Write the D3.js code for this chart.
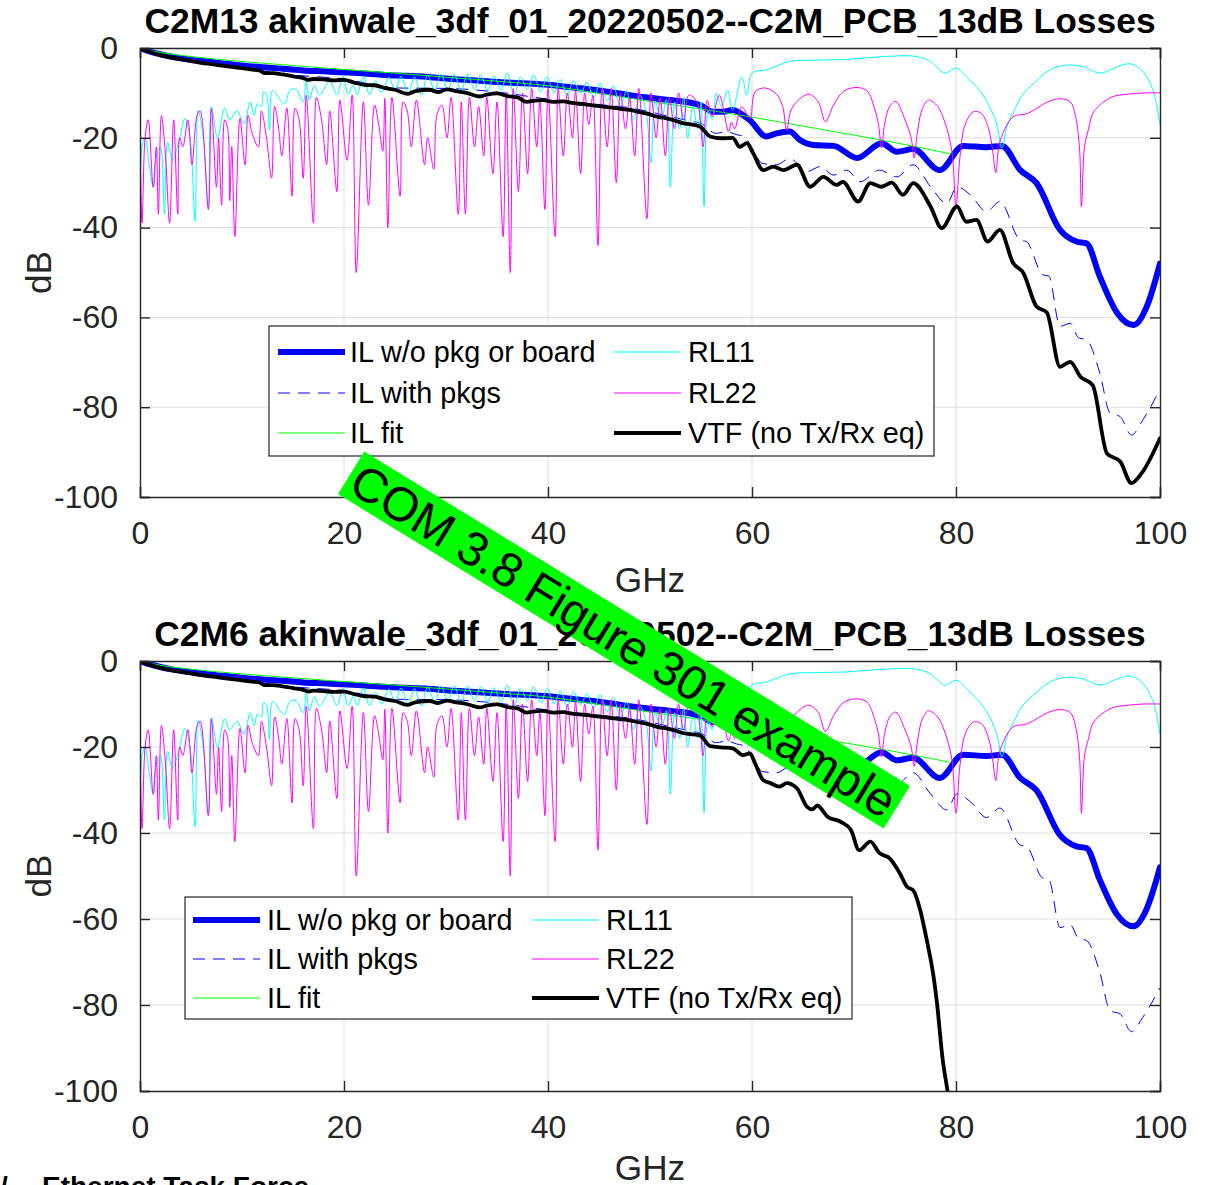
<!DOCTYPE html>
<html><head><meta charset="utf-8">
<script src="https://cdn.jsdelivr.net/npm/d3@7"></script>
<style>
body{margin:0;background:#fff;}
svg{display:block;}
text{font-family:"Liberation Sans",Arial,Helvetica,sans-serif;}
</style></head><body>
<svg id="chart" width="1209" height="1185"></svg>
<script>
// ---------------- DATA ----------------
const topTitle = "C2M13 akinwale_3df_01_20220502--C2M_PCB_13dB Losses";
const bottomTitle = "C2M6 akinwale_3df_01_20220502--C2M_PCB_13dB Losses";
const xTicks = [0, 20, 40, 60, 80, 100];
const yTicks = [0, -20, -40, -60, -80, -100];
const xLabel = "GHz";
const yLabel = "dB";
const legendLabels = ["IL w/o pkg or board", "IL with pkgs", "IL fit", "RL11", "RL22", "VTF (no Tx/Rx eq)"];
const bannerText = "COM 3.8 Figure 301 example";
const footerSlash = "/";
const footerText = "Ethernet Task Force";

// [GHz, dB]
const ilNoPkg = [[0,0],[1,-0.8],[2,-1.4],[3,-1.9],[4,-2.3],[5,-2.6],[6,-2.9],[8,-3.4],[10,-3.9],[12,-4.3],[14,-4.6],[16,-5.0],[18,-5.2],[20,-5.4],[22,-5.7],[24,-6.0],[26,-6.2],[28,-6.4],[30,-6.8],[32,-7.1],[34,-7.4],[36,-7.7],[38,-7.9],[40,-8.2],[42,-8.7],[44,-9.2],[46,-9.8],[48,-10.5],[50,-11.1],[52,-11.6],[54,-12.2],[55,-12.8],[56.2,-14.2],[57.2,-14.2],[58.1,-13.8],[59.1,-14.9],[59.8,-16.1],[61.4,-19.7],[62.4,-19.0],[63.7,-18.6],[64.7,-20.5],[66,-21.6],[68,-21.8],[70.3,-24.5],[72.7,-21.2],[74.2,-23.1],[75.8,-22.5],[78.4,-27.2],[80.7,-21.8],[83,-22.1],[84.5,-21.8],[86.3,-27.2],[87.9,-30.1],[90.2,-40.5],[91.8,-43.1],[92.8,-43.5],[94.1,-50.9],[95.8,-59],[97.4,-61.7],[98.7,-57.6],[100,-48]];

const ilWithPkg = [[0,0],[2,-1.5],[5,-2.8],[10,-4.4],[15,-6.0],[20,-6.9],[25,-8.9],[30,-9.0],[35,-9.8],[40,-11.4],[45,-12.6],[48,-13.3],[50,-14.2],[52,-15.3],[54,-16.3],[55,-16.8],[56.5,-19],[57.5,-18.6],[58.5,-19.3],[59.2,-19.7],[60.2,-23],[61,-25.7],[62.4,-26],[63.7,-24.6],[65.4,-27.5],[66.7,-26.4],[68,-28.3],[69.3,-27.2],[70.6,-29.8],[72.5,-27.2],[74.2,-28.7],[75.8,-26],[77.5,-30.9],[79.1,-34.6],[80.1,-30.9],[81.4,-32.7],[83,-36.4],[84.3,-34.2],[86.3,-42.8],[86.9,-43.1],[88.5,-50.5],[89.1,-50.8],[90.2,-62],[91.2,-61.3],[92,-64.5],[92.8,-65],[94.1,-72.4],[95.1,-81.3],[96.1,-82.1],[97.2,-86.2],[98.3,-82.9],[100,-76]];

const ilFit = [[0,0],[2,-1.0],[5,-1.9],[10,-3.0],[15,-3.9],[20,-4.8],[25,-5.6],[30,-6.5],[35,-7.4],[40,-8.4],[45,-10.1],[50,-11.9],[55,-13.6],[60,-15.4],[65,-17.4],[70,-19.4],[75,-21.5],[79.5,-23.6]];

const rl11 = [[0,-40],[0.2,-22],[0.5,-20],[0.9,-26],[1.3,-31],[1.6,-24],[2.0,-22],[2.4,-37],[2.7,-21],[3.2,-25],[3.9,-20],[4.4,-15.7],[4.9,-20],[5.4,-38.6],[5.7,-13.8],[6.2,-20],[6.7,-35.7],[7.0,-13.1],[7.6,-20],[8.3,-13.4],[8.8,-16],[9.5,-14],[10.2,-17],[10.8,-12],[11.2,-15],[11.5,-12.4],[11.9,-13],[12.1,-9.7],[12.4,-10.3],[12.7,-18.3],[13.0,-9.4],[13.9,-12],[14.2,-12.4],[14.7,-9.4],[15.3,-9.2],[16.0,-12],[16.3,-7.3],[16.6,-11.6],[17.1,-8.3],[17.6,-10.5],[18.6,-7.3],[19.3,-10.4],[19.9,-6.3],[20.4,-10.4],[20.9,-8.3],[21.3,-10.4],[21.9,-6.3],[22.5,-10.4],[23.1,-7.3],[23.7,-10],[24.4,-6.5],[25.0,-9.5],[25.6,-6.3],[26.3,-10.3],[26.9,-6.4],[27.6,-10.5],[28.2,-6.0],[28.9,-9.5],[29.5,-5.8],[30.2,-9.3],[30.8,-5.8],[31.5,-9.6],[32.1,-5.8],[32.8,-9.2],[33.4,-6.0],[34.1,-9.6],[34.7,-6.2],[35.4,-9.4],[36.0,-5.6],[36.7,-10.5],[37.3,-6.4],[38.0,-9.2],[38.6,-6.0],[39.3,-9.8],[39.9,-6.4],[40.6,-10.0],[41.2,-7.0],[41.9,-10.6],[42.5,-7.2],[43.2,-10.2],[43.8,-7.6],[44.5,-11.0],[45.1,-7.8],[45.8,-11.8],[46.4,-8.4],[47.1,-13.0],[47.7,-9.6],[48.4,-16.0],[49.0,-10.5],[49.6,-14],[50.1,-25.6],[50.5,-12],[51.1,-16],[51.6,-11.5],[52.0,-31],[52.4,-12],[52.9,-18],[53.3,-11],[53.7,-20],[54.2,-13],[54.7,-18],[55.0,-12],[55.3,-35.3],[55.7,-14],[56.1,-16],[56.5,-10.1],[57.0,-13],[57.6,-9.4],[58.1,-13.8],[59.0,-6.4],[59.5,-10.5],[60.0,-5.6],[61.4,-4.9],[63.7,-3.0],[66.3,-2.7],[69.6,-2.5],[72.9,-1.9],[76.1,-1.9],[77.5,-3.0],[78.4,-4.9],[78.9,-5.6],[80.1,-4.5],[81.0,-6.4],[82.3,-9.4],[83.3,-13.1],[84.0,-17],[84.5,-22.3],[85.0,-17.5],[85.6,-14.5],[86.5,-10.5],[87.6,-7.9],[89.2,-4.9],[90.8,-3.8],[92.5,-4.2],[94.1,-5.6],[95.8,-4.2],[97.1,-3.5],[98.0,-4.5],[98.7,-6.4],[99.4,-10],[100,-17]];

const rl22 = [[0,-20],[0.2,-39],[0.5,-20],[0.8,-16],[1.3,-31],[1.6,-22],[1.8,-37],[2.1,-15],[2.5,-24],[2.9,-39],[3.3,-16],[3.7,-37],[3.9,-20],[4.2,-22],[4.7,-16],[5.1,-26],[5.6,-15],[5.9,-14],[6.7,-36],[7.0,-13.5],[7.5,-31],[7.7,-20],[8.0,-35],[8.3,-16],[8.6,-18],[8.8,-34],[9.0,-22],[9.3,-42],[9.8,-15.7],[10.3,-26],[10.6,-15],[11.0,-19],[11.6,-22],[11.9,-14],[12.4,-20],[12.9,-29],[13.2,-13],[13.6,-18],[13.9,-24],[14.4,-13.4],[14.9,-33],[15.2,-13.4],[15.6,-16],[16.0,-29],[16.3,-10.5],[17.0,-39],[17.3,-11],[17.8,-16],[18.3,-26],[18.6,-14],[19.3,-32],[19.6,-11.6],[20.3,-25],[20.8,-10.5],[21.2,-50],[21.9,-12],[22.4,-35],[23.0,-12.7],[23.4,-17],[23.8,-23],[24.0,-11.2],[24.3,-40],[24.7,-11],[25.5,-33],[25.8,-12],[26.2,-14],[26.6,-22],[27.1,-11.6],[27.9,-26],[28.2,-20],[28.8,-27],[29.1,-15],[29.6,-12.7],[30.1,-20],[30.5,-11],[31.2,-37],[31.5,-12],[31.9,-37],[32.3,-11],[32.8,-22],[33.2,-13],[33.7,-24],[34.0,-11],[34.6,-28],[35.0,-12],[35.6,-42],[35.9,-10],[36.3,-50],[36.6,-9],[37.1,-32],[37.5,-10],[38.0,-28],[38.4,-9],[38.9,-22],[39.2,-12],[39.7,-36],[40.0,-9],[40.7,-42],[41.0,-9],[41.5,-24],[41.9,-10],[42.4,-20],[42.7,-9.5],[43.2,-28],[43.6,-10],[44.0,-17],[44.4,-10.5],[44.9,-44],[45.3,-9],[45.8,-22],[46.2,-9],[46.7,-30],[47.1,-10],[47.6,-18],[48.0,-11],[48.5,-24],[48.9,-9],[49.7,-38],[50.1,-10],[50.6,-20],[51.0,-11],[51.5,-24],[51.9,-11],[52.4,-18],[52.8,-10],[53.3,-16],[53.8,-10.5],[54.6,-12],[55.2,-22],[55.6,-11.7],[56.1,-15.3],[56.8,-10.5],[57.7,-18.6],[58.0,-16.5],[58.3,-18],[59.0,-13.1],[59.8,-15.7],[60.3,-9.8],[61.3,-8.9],[62.4,-10.3],[63.0,-13],[63.4,-18.4],[63.8,-14],[64.6,-11.5],[65.6,-10.3],[66.5,-12],[67.2,-16.4],[68.0,-12.7],[69.0,-9.6],[70.3,-8.8],[71.3,-9.6],[72.0,-13.4],[72.4,-17],[72.7,-22.3],[73.0,-17],[73.5,-13],[74.1,-11.9],[75.0,-16],[75.6,-20],[75.9,-24.5],[76.2,-19],[76.7,-13.5],[77.3,-11.6],[78.2,-13],[78.9,-16.5],[79.6,-23],[80.0,-35.4],[80.4,-24],[80.9,-17],[81.7,-14.2],[82.5,-14.6],[83.2,-18],[83.6,-23],[83.9,-27.8],[84.2,-22],[84.6,-19],[85.6,-15.3],[87.0,-14.6],[89.0,-12],[90.2,-11.3],[91.2,-12],[91.7,-15],[92.1,-22],[92.3,-35.4],[92.6,-22],[93.0,-18],[93.5,-14.2],[95.2,-11],[96.8,-10.3],[98.4,-10],[100,-10]];

const vtfTop = [[0,0],[1,-0.9],[2,-1.6],[3,-2.1],[4,-2.5],[5,-2.9],[6,-3.3],[7,-3.6],[8,-3.9],[9,-4.2],[10,-4.5],[11,-4.8],[11.7,-5.0],[12.2,-5.6],[13,-5.6],[14,-5.9],[15,-6.3],[16,-6.7],[16.5,-7.1],[17,-6.9],[18,-7.0],[19,-7.2],[20,-7.1],[21,-7.7],[22,-8.2],[23,-8.3],[24,-8.9],[25,-9.3],[26.2,-10.2],[27,-9.6],[28.4,-9.3],[29.2,-9.8],[30.1,-9.2],[31,-9.6],[32,-10.0],[33.3,-10.8],[34,-10.4],[35,-10.1],[36,-10.7],[37,-11.0],[37.9,-12.0],[38.7,-11.7],[39.5,-11.6],[40.5,-12.0],[41.5,-11.9],[42.5,-12.3],[43.5,-12.5],[44.8,-12.9],[46,-13.2],[47,-13.5],[48,-13.8],[49,-14.3],[50,-14.8],[50.7,-15.3],[51.5,-15.6],[52.5,-16.2],[53.3,-16.8],[54,-17.0],[54.9,-17.5],[55.9,-19.7],[57,-20.1],[58.1,-20.0],[58.8,-22.0],[59.5,-21.2],[60.1,-23.4],[61.1,-27.2],[62.1,-26.4],[63.1,-27.2],[64.4,-26.0],[65.7,-30.9],[67,-28.7],[68.3,-30.5],[68.9,-29.8],[70.4,-34.2],[71.6,-30.1],[72.7,-30.9],[73.7,-30.0],[74.8,-32.7],[75.8,-30.1],[77.5,-35.3],[78.6,-40.1],[80.1,-35.3],[81,-38.7],[82,-38.3],[83.1,-43.1],[84.3,-40.5],[85.6,-47.9],[86.6,-50.1],[87.9,-57.6],[88.9,-58.9],[90.2,-71.0],[91.2,-69.9],[92.2,-73.2],[93.4,-75.1],[94.8,-90.3],[96.1,-92.1],[97.2,-96.9],[98.2,-94.7],[100,-86.9]];

const vtfBottom = [[0,0],[1,-0.9],[2,-1.6],[3,-2.1],[4,-2.5],[5,-2.9],[6,-3.3],[7,-3.6],[8,-3.9],[9,-4.2],[10,-4.5],[11,-4.8],[11.7,-5.0],[12.2,-5.6],[13,-5.6],[14,-5.9],[15,-6.3],[16,-6.7],[16.5,-7.1],[17,-6.9],[18,-7.0],[19,-7.2],[20,-7.1],[21,-7.7],[22,-8.2],[23,-8.3],[24,-8.9],[25,-9.3],[26.2,-10.2],[27,-9.6],[28.4,-9.3],[29.2,-9.8],[30.1,-9.2],[31,-9.6],[32,-10.0],[33.3,-10.8],[34,-10.4],[35,-10.1],[36,-10.7],[37,-11.0],[37.9,-12.0],[38.7,-11.7],[39.5,-11.6],[40.5,-12.0],[41.5,-11.9],[42.5,-12.3],[43.5,-12.5],[44.8,-12.9],[46,-13.2],[47,-13.5],[48,-13.8],[49,-14.3],[50,-14.8],[50.7,-15.3],[51.5,-15.6],[52.5,-16.2],[53.3,-16.8],[54,-17.0],[54.9,-17.3],[55.9,-19.8],[57,-20.1],[58.1,-20.3],[59.1,-21.9],[59.8,-21.5],[60.3,-23.8],[61.1,-27.7],[61.8,-28.4],[62.7,-29.2],[63.4,-28.4],[64.4,-29.6],[65.4,-33.9],[65.9,-34.5],[66.4,-33.6],[67.4,-36.2],[68.7,-37.4],[69.7,-39.3],[70.5,-44],[71.6,-42],[72.5,-44.7],[73.5,-45.9],[74.5,-49.4],[75.2,-52.5],[75.8,-53.3],[76.5,-58],[77.1,-64.5],[77.8,-73.4],[78.1,-78.8],[78.7,-92.8],[79.2,-100.5],[79.5,-106]];

// ---------------- DRAWING ----------------
const W = 1209, H = 1185;
const svg = d3.select('#chart');
svg.append('rect').attr('width', W).attr('height', H).attr('fill', '#fff');

const axisColor = '#262626';
const gridColor = '#dfdfdf';

const styles = [
  {data: ilNoPkg, color: '#0000ff', width: 6, dash: null, curve: d3.curveMonotoneX},
  {data: ilWithPkg, color: '#0000ff', width: 1, dash: '12,8', curve: d3.curveMonotoneX},
  {data: ilFit, color: '#00ff00', width: 1, dash: null, curve: d3.curveMonotoneX},
  {data: rl11, color: '#00ffff', width: 1, dash: null, curve: d3.curveCatmullRom.alpha(0.5)},
  {data: rl22, color: '#ff00ff', width: 1, dash: null, curve: d3.curveCatmullRom.alpha(0.5)},
  {data: null, color: '#000000', width: 3.8, dash: null, curve: d3.curveMonotoneX}
];

const panels = [
  {title: topTitle, vtf: vtfTop, x0: 140, x1: 1160, y0: 48, y1: 497, xlabOff: 95,
   leg: {x: 269, y: 326, w: 665, h: 130, rows: [352, 393, 433], s1: 278, s2: 614, len: 67, t1: 350, t2: 688}},
  {title: bottomTitle, vtf: vtfBottom, x0: 140, x1: 1160, y0: 661, y1: 1091, xlabOff: 89,
   leg: {x: 185, y: 897, w: 667, h: 122, rows: [920, 959, 998], s1: 193, s2: 532, len: 67, t1: 267, t2: 606}}
];

const fmt = d => String(d);

panels.forEach((p, pi) => {
  const x = d3.scaleLinear().domain([0, 100]).range([p.x0, p.x1]);
  const y = d3.scaleLinear().domain([-100, 0]).range([p.y1, p.y0]);
  const g = svg.append('g');

  // grid
  g.append('g').selectAll('line').data(xTicks.slice(1, -1)).join('line')
    .attr('x1', d => x(d)).attr('x2', d => x(d)).attr('y1', p.y0).attr('y2', p.y1)
    .attr('stroke', gridColor).attr('stroke-width', 1);
  g.append('g').selectAll('line').data(yTicks.slice(1, -1)).join('line')
    .attr('y1', d => y(d)).attr('y2', d => y(d)).attr('x1', p.x0).attr('x2', p.x1)
    .attr('stroke', gridColor).attr('stroke-width', 1);

  // clip
  const cid = 'clip' + pi;
  svg.append('clipPath').attr('id', cid).append('rect')
    .attr('x', p.x0).attr('y', p.y0).attr('width', p.x1 - p.x0).attr('height', p.y1 - p.y0);

  const lines = g.append('g').attr('clip-path', `url(#${cid})`);
  styles.forEach(s => {
    const data = s.data || p.vtf;
    const line = d3.line().x(d => x(d[0])).y(d => y(d[1])).curve(s.curve);
    lines.append('path').attr('d', line(data)).attr('fill', 'none')
      .attr('stroke', s.color).attr('stroke-width', s.width)
      .attr('stroke-dasharray', s.dash).attr('stroke-linejoin', 'round').attr('stroke-linecap', s.dash ? 'butt' : 'round');
  });

  // axes (ticks inward on all four sides)
  const axB = d3.axisBottom(x).tickValues(xTicks).tickSize(-10).tickFormat(fmt).tickPadding(24);
  const axT = d3.axisTop(x).tickValues(xTicks).tickSize(-10).tickFormat('');
  const axL = d3.axisLeft(y).tickValues(yTicks).tickSize(-10).tickFormat(fmt).tickPadding(22);
  const axR = d3.axisRight(y).tickValues(yTicks).tickSize(-10).tickFormat('');
  const gb = g.append('g').attr('transform', `translate(0,${p.y1})`).call(axB);
  const gt = g.append('g').attr('transform', `translate(0,${p.y0})`).call(axT);
  const gl = g.append('g').attr('transform', `translate(${p.x0},0)`).call(axL);
  const gr = g.append('g').attr('transform', `translate(${p.x1},0)`).call(axR);
  [gb, gt, gl, gr].forEach(a => {
    a.select('.domain').attr('stroke', axisColor).attr('stroke-width', 1.4);
    a.selectAll('.tick line').attr('stroke', axisColor).attr('stroke-width', 1.4);
    a.selectAll('.tick text').attr('fill', axisColor).attr('font-size', 32)
      .attr('font-family', '"Liberation Sans", Arial, sans-serif');
  });
  gb.selectAll('.tick text').attr('dy', '0.71em');

  // labels
  g.append('text').attr('x', (p.x0 + p.x1) / 2).attr('y', p.y1 + p.xlabOff).attr('text-anchor', 'middle')
    .attr('font-size', 35.2).attr('fill', axisColor).text(xLabel);
  g.append('text').attr('transform', `translate(38,${(p.y0 + p.y1) / 2}) rotate(-90)`)
    .attr('text-anchor', 'middle').attr('dominant-baseline', 'central')
    .attr('font-size', 35.2).attr('fill', axisColor).text(yLabel);
  g.append('text').attr('x', (p.x0 + p.x1) / 2).attr('y', p.y0 - 15).attr('text-anchor', 'middle')
    .attr('font-size', 35.4).attr('font-weight', 'bold').attr('fill', '#000').text(p.title);

  // legend
  const L = p.leg;
  const lg = g.append('g');
  lg.append('rect').attr('x', L.x).attr('y', L.y).attr('width', L.w).attr('height', L.h)
    .attr('fill', '#fff').attr('stroke', axisColor).attr('stroke-width', 1.2);
  legendLabels.forEach((lab, i) => {
    const col = i < 3 ? 0 : 1;
    const row = i % 3;
    const sx = col === 0 ? L.s1 : L.s2;
    const tx = col === 0 ? L.t1 : L.t2;
    const yy = L.rows[row];
    const s = styles[i];
    lg.append('line').attr('x1', sx).attr('x2', sx + L.len).attr('y1', yy).attr('y2', yy)
      .attr('stroke', s.color).attr('stroke-width', s.width).attr('stroke-dasharray', s.dash);
    lg.append('text').attr('x', tx).attr('y', yy).attr('dy', '0.35em')
      .attr('font-size', 28.8).attr('fill', '#000').text(lab);
  });
});

// banner
const bn = svg.append('g').attr('transform', 'translate(624,640) rotate(31.5)');
bn.append('rect').attr('x', -320).attr('y', -25).attr('width', 640).attr('height', 50).attr('fill', '#00ff00');
bn.append('text').attr('x', 0).attr('y', 1).attr('text-anchor', 'middle').attr('dominant-baseline', 'central')
  .attr('font-size', 48).attr('fill', '#000').text(bannerText);

// footer (cut off at the bottom edge, as in the reference)
const foot = svg.append('g').attr('font-weight', 'bold').attr('fill', '#000')
  .attr('font-family', 'Lato, "Open Sans", sans-serif').attr('font-size', 28);
foot.append('text').attr('x', 0).attr('y', 1196).text(footerSlash);
foot.append('text').attr('x', 42).attr('y', 1196).text(footerText);
</script>
</body></html>
